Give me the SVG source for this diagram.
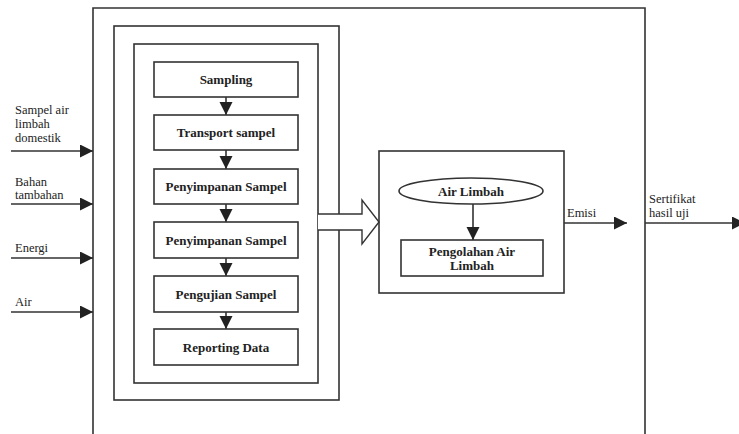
<svg xmlns="http://www.w3.org/2000/svg" width="739" height="434" viewBox="0 0 739 434">
<style>
.frame{fill:none;stroke:#333;stroke-width:1.6}
.box{fill:#fff;stroke:#333;stroke-width:1.6}
.ln{stroke:#333;stroke-width:1.6;fill:none}
.bt{font-family:'Liberation Serif','DejaVu Serif','Times New Roman',serif;font-weight:bold;font-size:13px;fill:#222;text-anchor:middle}
.lt{font-family:'Liberation Serif','DejaVu Serif','Times New Roman',serif;font-size:12.5px;fill:#222}
</style>
<defs>
<marker id="ah" markerUnits="userSpaceOnUse" markerWidth="14" markerHeight="14" refX="13" refY="6.5" orient="auto">
<path d="M0,0 L13,6.5 L0,13 Z" fill="#222"/>
</marker>
</defs>
<rect width="739" height="434" fill="#fff"/>
<g id="frames">
<path class="frame" d="M93,434 V8 H645 V434"/>
<rect class="frame" x="114" y="26" width="225" height="374"/>
<rect class="frame" x="134" y="44" width="184" height="339"/>
</g>
<g id="connectors">
<line class="ln" x1="11" y1="151" x2="93" y2="151" marker-end="url(#ah)"/>
<line class="ln" x1="11" y1="204" x2="93" y2="204" marker-end="url(#ah)"/>
<line class="ln" x1="11" y1="258" x2="93" y2="258" marker-end="url(#ah)"/>
<line class="ln" x1="11" y1="312" x2="93" y2="312" marker-end="url(#ah)"/>
<line class="ln" x1="226" y1="97" x2="226" y2="115" marker-end="url(#ah)"/>
<line class="ln" x1="226" y1="150" x2="226" y2="169" marker-end="url(#ah)"/>
<line class="ln" x1="226" y1="204" x2="226" y2="222" marker-end="url(#ah)"/>
<line class="ln" x1="226" y1="258" x2="226" y2="276" marker-end="url(#ah)"/>
<line class="ln" x1="226" y1="312" x2="226" y2="329" marker-end="url(#ah)"/>
<line class="ln" x1="473" y1="204" x2="473" y2="240" marker-end="url(#ah)"/>
<line class="ln" x1="564" y1="223" x2="627" y2="223" marker-end="url(#ah)"/>
<line class="ln" x1="645" y1="223" x2="745" y2="223" marker-end="url(#ah)"/>
<path id="bigArrow" d="M318,214 H362 V200 L379,222 L362,244 V230 H318" fill="#fff" stroke="#333" stroke-width="1.4"/>
</g>
<g id="inputs">
<text class="lt" x="15" y="114">Sampel air</text>
<text class="lt" x="15" y="128">limbah</text>
<text class="lt" x="15" y="142">domestik</text>
<text class="lt" x="15" y="185.5">Bahan</text>
<text class="lt" x="15" y="199">tambahan</text>
<text class="lt" x="15" y="252">Energi</text>
<text class="lt" x="15" y="306">Air</text>
</g>
<g id="n-sampling"><rect class="box" x="154" y="62" width="144" height="35"/><text class="bt" x="226" y="84">Sampling</text></g>
<g id="n-transport"><rect class="box" x="154" y="115" width="144" height="35"/><text class="bt" x="226" y="137">Transport sampel</text></g>
<g id="n-penyimpanan1"><rect class="box" x="154" y="169" width="144" height="35"/><text class="bt" x="226" y="191">Penyimpanan Sampel</text></g>
<g id="n-penyimpanan2"><rect class="box" x="154" y="222" width="144" height="36"/><text class="bt" x="226" y="244.5">Penyimpanan Sampel</text></g>
<g id="n-pengujian"><rect class="box" x="154" y="276" width="144" height="36"/><text class="bt" x="226" y="298.5">Pengujian Sampel</text></g>
<g id="n-reporting"><rect class="box" x="154" y="329" width="144" height="36"/><text class="bt" x="226" y="351.5">Reporting Data</text></g>
<g id="n-ipal">
<rect class="frame" x="379" y="151" width="185" height="142"/>
</g>
<g id="n-airlimbah"><ellipse class="box" cx="471" cy="191" rx="72" ry="13"/><text class="bt" x="471" y="195.5">Air Limbah</text></g>
<g id="n-pengolahan"><rect class="box" x="401" y="240" width="142" height="36"/><text class="bt" x="472" y="256">Pengolahan Air</text><text class="bt" x="472" y="269.5">Limbah</text></g>
<g id="outputs">
<text class="lt" x="567" y="217">Emisi</text>
<text class="lt" x="649" y="203">Sertifikat</text>
<text class="lt" x="649" y="216.5">hasil uji</text>
</g>
</svg>
